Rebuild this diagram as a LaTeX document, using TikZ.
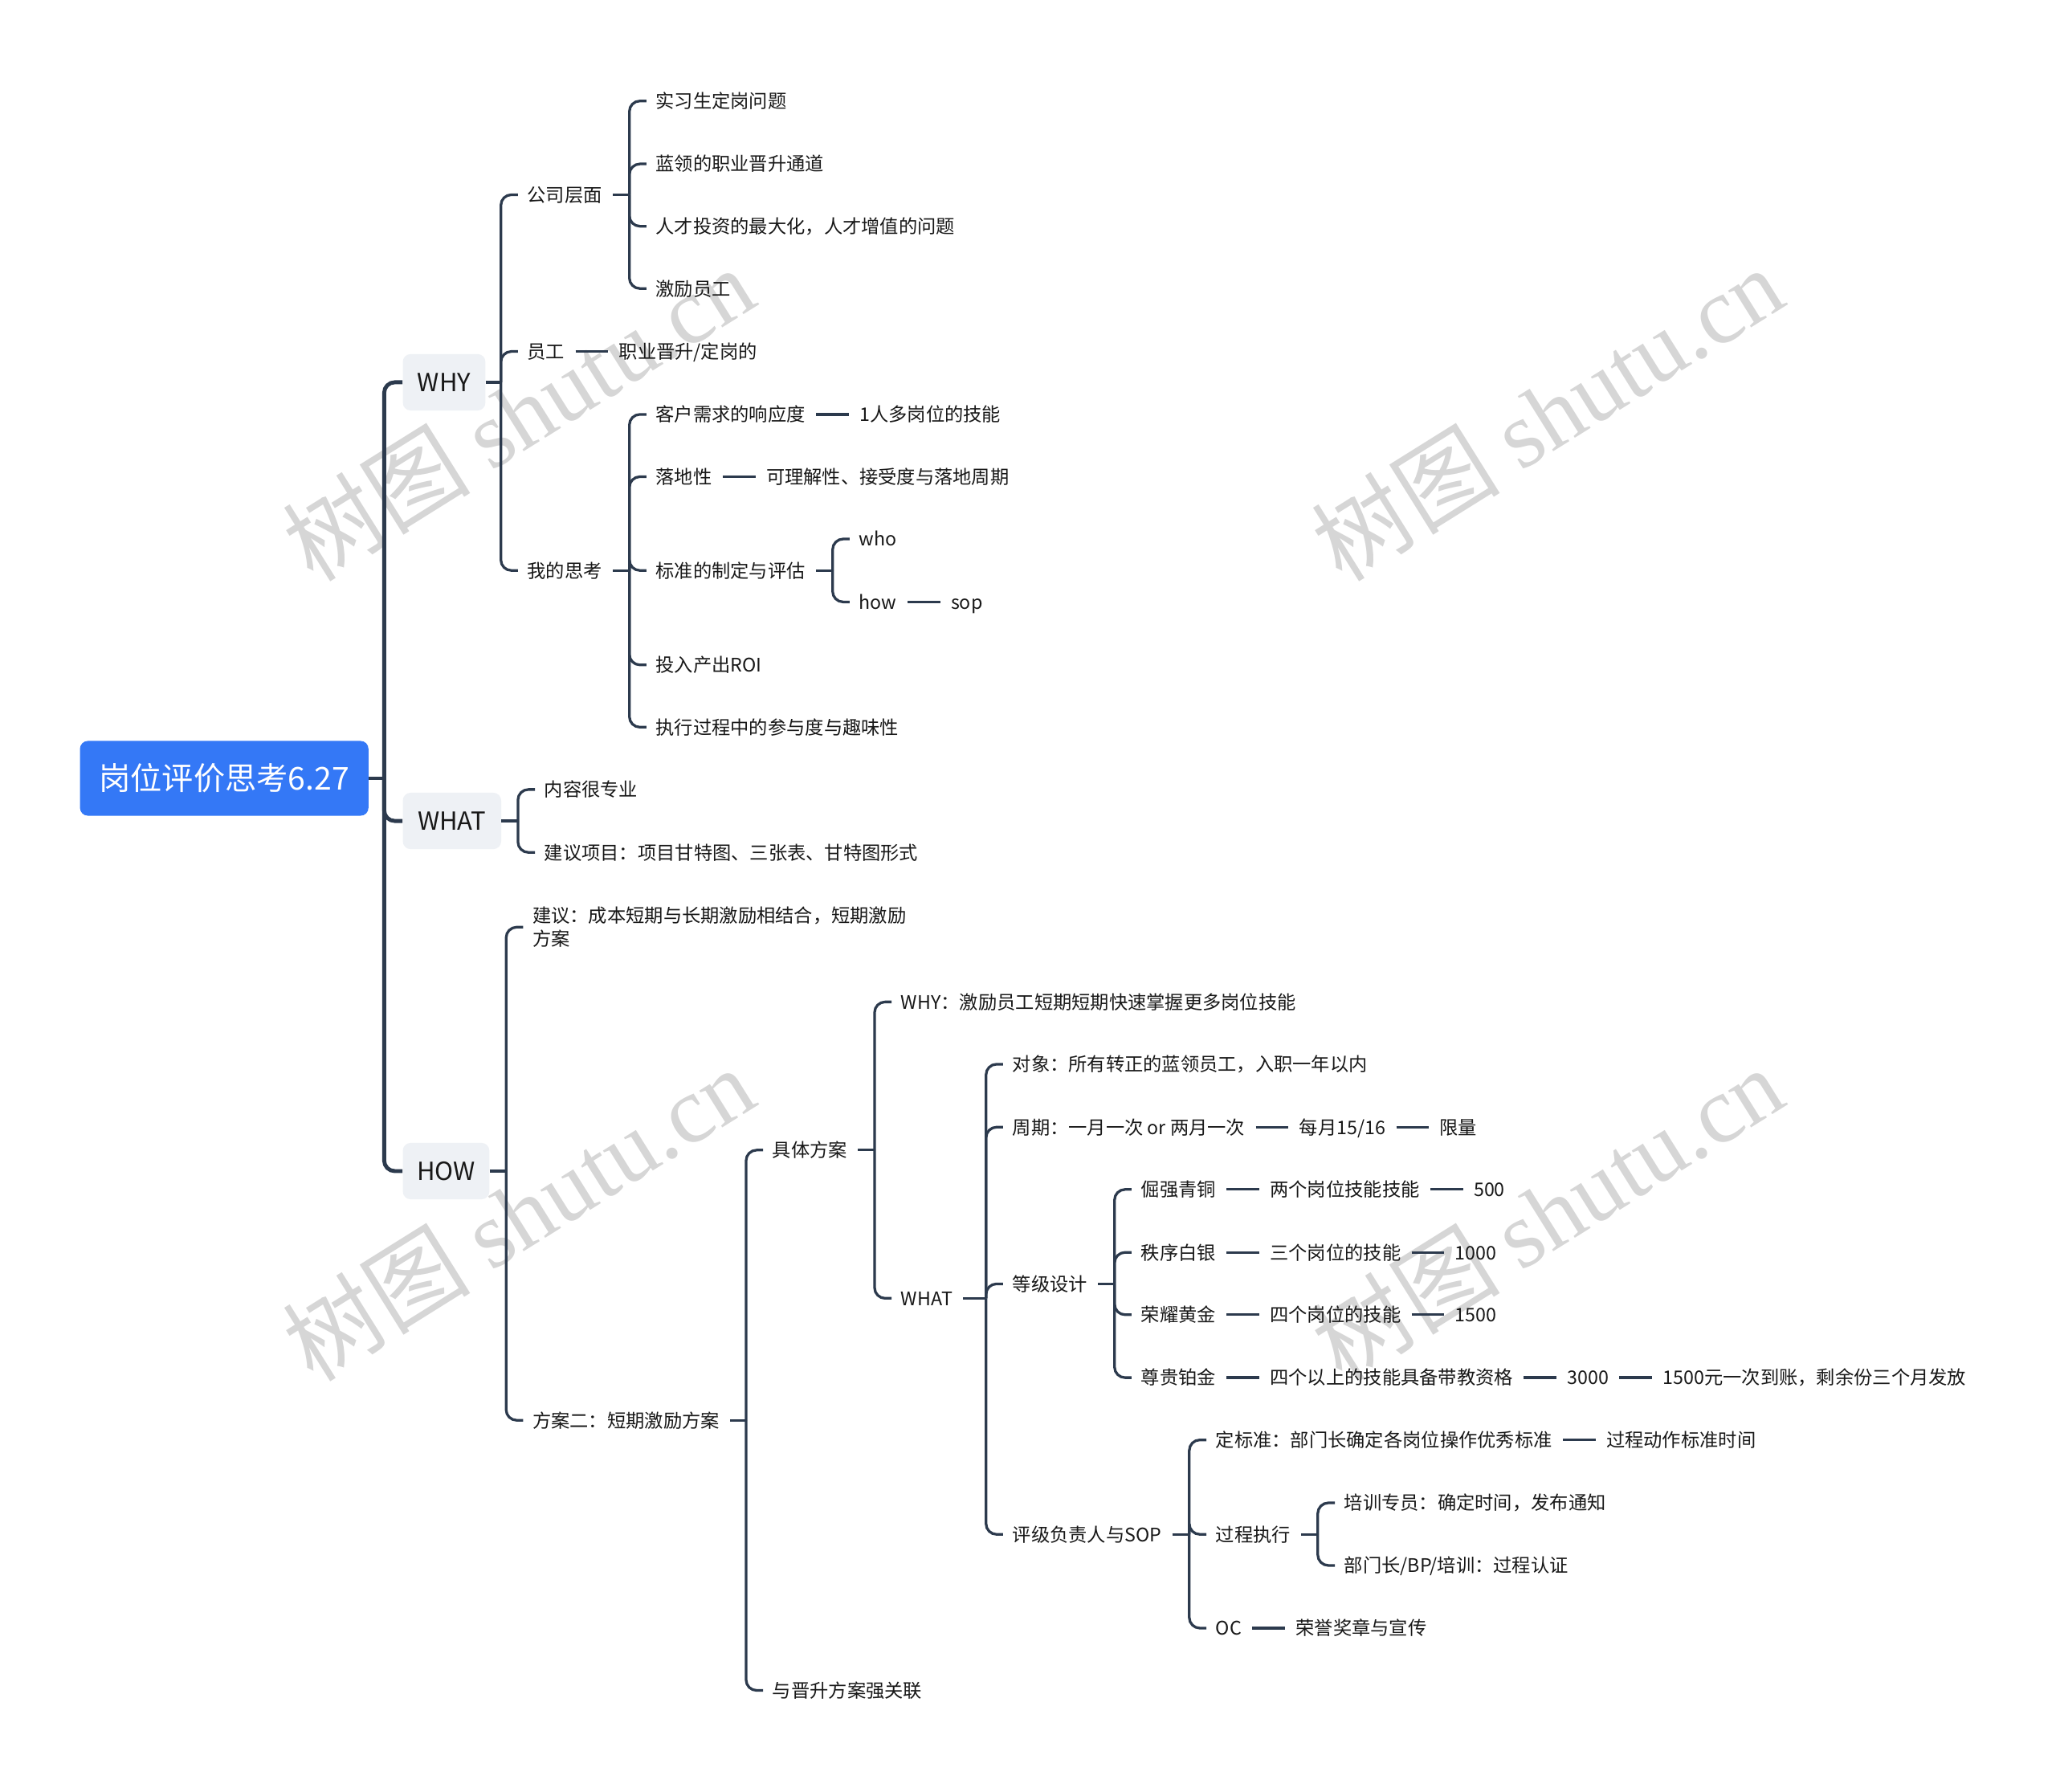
\documentclass[tikz,border=0pt]{standalone}
\usepackage{fontspec}
\setmainfont{Noto Sans CJK SC}
\newfontfamily\wmlat{Liberation Serif}
\usetikzlibrary{calc,positioning}
\definecolor{ln}{RGB}{44,58,77}
\definecolor{rootc}{RGB}{52,120,246}
\definecolor{boxc}{RGB}{238,241,245}
\definecolor{tx}{RGB}{24,24,24}
\definecolor{wm}{RGB}{214,214,214}
\tikzset{
  txt/.style={anchor=west, inner sep=0pt, font=\fontsize{14.25}{18}\selectfont, text=tx, text height=12.5pt, text depth=1.7pt},
  txtb/.style={anchor=west, inner sep=0pt, font=\fontsize{14.25}{18}\selectfont, text=tx, align=left},
  conn/.style={draw=ln, line width=2pt},
  mainconn/.style={line width=3pt},
  rootbox/.style={fill=rootc, rounded corners=6pt, minimum width=220pt, minimum height=57pt, inner sep=0pt, text=white, font=\fontsize{24}{28}\selectfont},
  lonebox/.style={anchor=west, fill=boxc, rounded corners=6pt, minimum height=43pt, inner sep=0pt, font=\fontsize{19}{22}\selectfont, text=tx},
  wmk/.style={text=wm, font=\fontsize{72}{80}\selectfont, rotate=32, inner sep=0pt},
  nx/.style={txt, right=41pt of #1}
}
% #1 extra style, #2 parent, #3 children, #4 parent gap, #5 spine offset, #6 child gap
\newcommand\fork[6][]{%
  \foreach \c [count=\i] in {#3}{%
    \ifnum\i=1\relax
      \draw[conn,#1] let \p1=(#2.east), \p2=(\c.west) in (\x1+#4,\y1) -- (\x2-#5,\y1);
    \fi
    \draw[conn,rounded corners=8pt,#1] let \p1=(#2.east), \p2=(\c.west) in (\x2-#5,\y1) |- (\x2-#6,\y2);
  }}
\newcommand\chain[2]{\draw[conn] ([xshift=8pt]#1.east) -- ([xshift=-8pt]#2.west);}
\begin{document}
\begin{tikzpicture}[x=1pt,y=-1pt]
\useasboundingbox (0,0) rectangle (1568,1366);
\fill[white] (0,0) rectangle (1568,1366);
% watermarks
\node[wmk] (wm1) at (395,315) {树图 {\wmlat shutu.cn}};
\node[wmk] (wm2) at (1180,315) {树图 {\wmlat shutu.cn}};
\node[wmk] (wm3) at (395,925) {树图 {\wmlat shutu.cn}};
\node[wmk] (wm4) at (1180,925) {树图 {\wmlat shutu.cn}};

% root and level 1
\node[rootbox] (root) at (171,593.5) {岗位评价思考6.27};
\node[lonebox, minimum width=63pt] (why) at (307,291.5) {WHY};
\node[lonebox, minimum width=75pt] (what) at (307,626) {WHAT};
\node[lonebox, minimum width=66pt] (how) at (307,893) {HOW};

% WHY branch
\node[txt] (gs) at (402,148.5) {公司层面};
\node[txt] (yg) at (402,268) {员工};
\node[nx=yg] (yg2) {职业晋升/定岗的};
\node[txt] (ws) at (402,435) {我的思考};

\node[txt] (a1) at (500,77) {实习生定岗问题};
\node[txt] (a2) at (500,125) {蓝领的职业晋升通道};
\node[txt] (a3) at (500,172.5) {人才投资的最大化，人才增值的问题};
\node[txt] (a4) at (500,220) {激励员工};

\node[txt] (b1) at (500,316) {客户需求的响应度};
\node[nx=b1] (b1x) {1人多岗位的技能};
\node[txt] (b2) at (500,363.5) {落地性};
\node[nx=b2] (b2x) {可理解性、接受度与落地周期};
\node[txt] (b3) at (500,435) {标准的制定与评估};
\node[txt] (b4) at (500,507) {投入产出ROI};
\node[txt] (b5) at (500,554.5) {执行过程中的参与度与趣味性};

\node[txt] (c1) at (655,411) {who};
\node[txt] (c2) at (655,459) {how};
\node[nx=c2] (c2x) {sop};

% WHAT branch
\node[txt] (d1) at (415,602) {内容很专业};
\node[txt] (d2) at (415,650) {建议项目：项目甘特图、三张表、甘特图形式};

% HOW branch
\node[txtb] (e1) at (406,707) {建议：成本短期与长期激励相结合，短期激励\\方案};
\node[txt] (e2) at (406,1083) {方案二：短期激励方案};
\node[txt] (f1) at (589,877) {具体方案};
\node[txt] (f2) at (589,1289) {与晋升方案强关联};
\node[txt] (g1) at (687,764) {WHY：激励员工短期短期快速掌握更多岗位技能};
\node[txt] (g2) at (687,990) {WHAT};

\node[txt] (h1) at (772,811.5) {对象：所有转正的蓝领员工，入职一年以内};
\node[txt] (h2) at (772,859.5) {周期：一月一次 or 两月一次};
\node[nx=h2] (h2x) {每月15/16};
\node[nx=h2x] (h2y) {限量};
\node[txt] (h3) at (772,979) {等级设计};
\node[txt] (h4) at (772,1170) {评级负责人与SOP};

\node[txt] (i1) at (870,907) {倔强青铜};
\node[nx=i1] (i1x) {两个岗位技能技能};
\node[nx=i1x] (i1y) {500};
\node[txt] (i2) at (870,955) {秩序白银};
\node[nx=i2] (i2x) {三个岗位的技能};
\node[nx=i2x] (i2y) {1000};
\node[txt] (i3) at (870,1002.5) {荣耀黄金};
\node[nx=i3] (i3x) {四个岗位的技能};
\node[nx=i3x] (i3y) {1500};
\node[txt] (i4) at (870,1050.5) {尊贵铂金};
\node[nx=i4] (i4x) {四个以上的技能具备带教资格};
\node[nx=i4x] (i4y) {3000};
\node[nx=i4y] (i4z) {1500元一次到账，剩余份三个月发放};

\node[txt] (j1) at (927,1098) {定标准：部门长确定各岗位操作优秀标准};
\node[nx=j1] (j1x) {过程动作标准时间};
\node[txt] (j2) at (927,1170) {过程执行};
\node[txt] (j3) at (927,1241.5) {OC};
\node[nx=j3] (j3x) {荣誉奖章与宣传};

\node[txt] (k1) at (1025,1146) {培训专员：确定时间，发布通知};
\node[txt] (k2) at (1025,1193.7) {部门长/BP/培训：过程认证};

% connectors
\fork[mainconn]{root}{why,what,how}{0pt}{14pt}{0pt}
\fork{why}{gs,yg,ws}{0pt}{20pt}{7pt}
\fork{gs}{a1,a2,a3,a4}{8pt}{20pt}{7pt}
\fork{ws}{b1,b2,b3,b4,b5}{8pt}{20pt}{7pt}
\fork{b3}{c1,c2}{8pt}{20pt}{7pt}
\fork{what}{d1,d2}{0pt}{20pt}{7pt}
\fork{how}{e1,e2}{0pt}{20pt}{7pt}
\fork{e2}{f1,f2}{8pt}{20pt}{7pt}
\fork{f1}{g1,g2}{8pt}{20pt}{7pt}
\fork{g2}{h1,h2,h3,h4}{8pt}{20pt}{7pt}
\fork{h3}{i1,i2,i3,i4}{8pt}{20pt}{7pt}
\fork{h4}{j1,j2,j3}{8pt}{20pt}{7pt}
\fork{j2}{k1,k2}{8pt}{20pt}{7pt}

\chain{yg}{yg2}
\chain{b1}{b1x}
\chain{b2}{b2x}
\chain{c2}{c2x}
\chain{h2}{h2x}
\chain{h2x}{h2y}
\chain{i1}{i1x}\chain{i1x}{i1y}
\chain{i2}{i2x}\chain{i2x}{i2y}
\chain{i3}{i3x}\chain{i3x}{i3y}
\chain{i4}{i4x}\chain{i4x}{i4y}\chain{i4y}{i4z}
\chain{j1}{j1x}
\chain{j3}{j3x}
\end{tikzpicture}
\end{document}
